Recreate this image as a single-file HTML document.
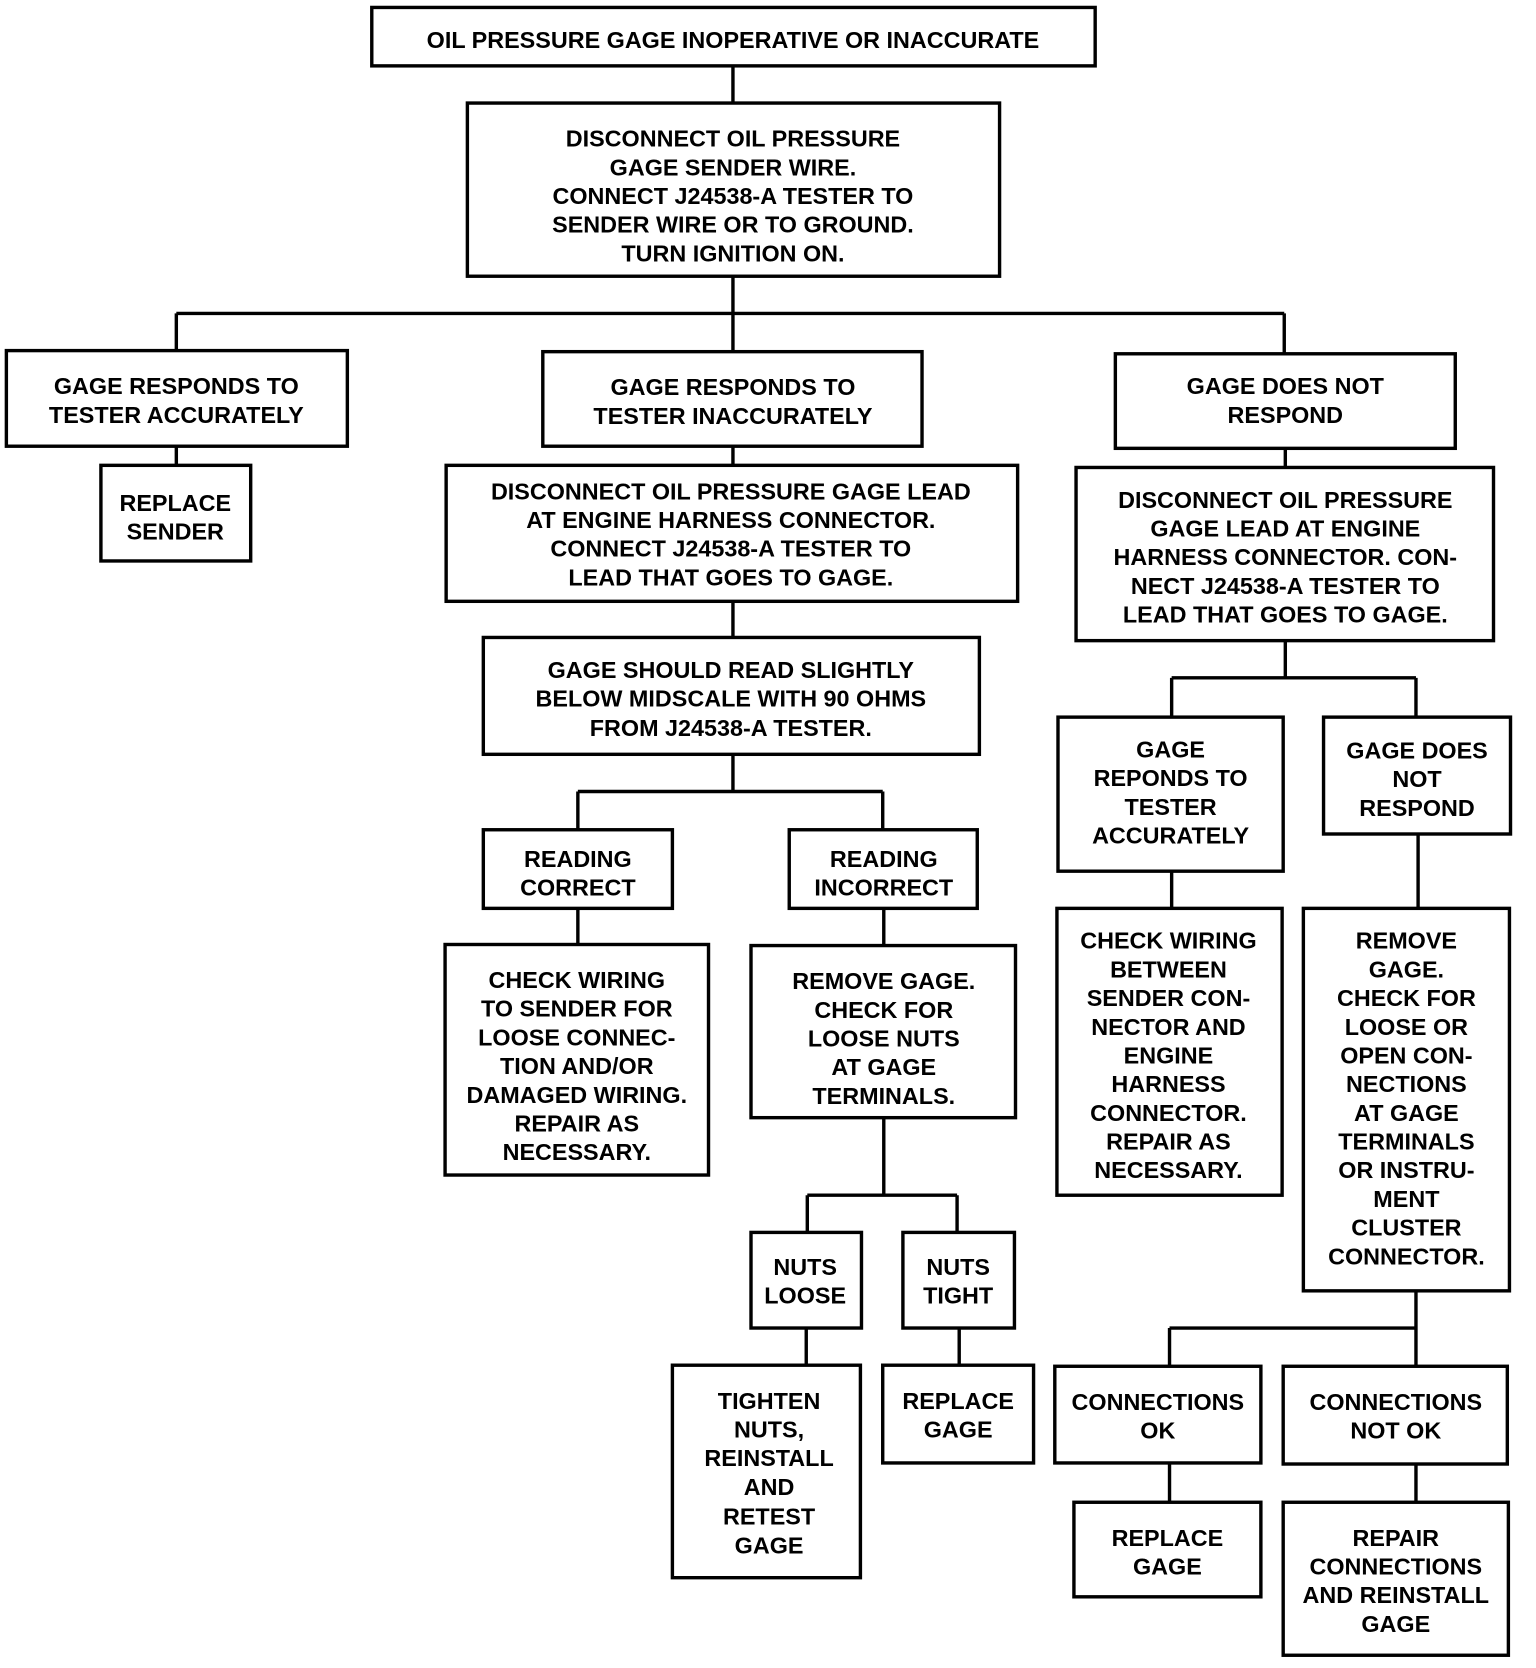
<!DOCTYPE html>
<html><head><meta charset="utf-8"><style>
html,body{margin:0;padding:0;background:#fff;}
svg{display:block;}
text{font-family:"Liberation Sans",Arial,sans-serif;font-weight:bold;font-size:22px;text-anchor:middle;fill:#000;}
</style></head><body>
<svg width="1536" height="1668" viewBox="0 0 1446 1570" preserveAspectRatio="none" xmlns="http://www.w3.org/2000/svg">
<g fill="none" stroke="#000" stroke-width="3.2">
<rect x="350" y="7" width="681" height="55"/>
<rect x="440" y="97" width="501" height="163"/>
<rect x="6" y="330" width="321" height="90"/>
<rect x="511" y="331" width="357" height="89"/>
<rect x="1050" y="333" width="320" height="89"/>
<rect x="95" y="438" width="141" height="90"/>
<rect x="420" y="438" width="538" height="128"/>
<rect x="1013" y="440" width="393" height="163"/>
<rect x="455" y="600" width="467" height="110"/>
<rect x="455" y="781" width="178" height="74"/>
<rect x="743" y="781" width="177" height="74"/>
<rect x="419" y="889" width="248" height="217"/>
<rect x="707" y="890" width="249" height="162"/>
<rect x="996" y="675" width="212" height="145"/>
<rect x="1246" y="675" width="176" height="110"/>
<rect x="995" y="855" width="212" height="270"/>
<rect x="1227" y="855" width="194" height="360"/>
<rect x="707" y="1160" width="104" height="90"/>
<rect x="850" y="1160" width="105" height="90"/>
<rect x="633" y="1285" width="177" height="200"/>
<rect x="831" y="1285" width="142" height="92"/>
<rect x="993" y="1286" width="194" height="91"/>
<rect x="1208" y="1286" width="211" height="92"/>
<rect x="1011" y="1414" width="176" height="89"/>
<rect x="1208" y="1414" width="212" height="144"/>
<path d="M690 62V97 M690 260V330 M166 295H1209 M166 295V330 M1209 295V333
M166 420V438 M690 420V438 M1210 422V440 M690 566V600
M690 710V745 M544 745H831 M544 745V781 M831 745V781
M544 855V889 M832 855V890
M1210 603V638 M1103 638H1333 M1103 638V675 M1333 638V675
M1103 820V855 M1335 785V855
M832 1052V1125 M760 1125H901 M760 1125V1160 M901 1125V1160
M759 1250V1285 M903 1250V1285
M1333 1215V1286 M1101 1250H1333 M1101 1250V1286
M1101 1377V1414 M1333 1378V1414"/>
</g>
<g>
<text x="690" y="45">OIL PRESSURE GAGE INOPERATIVE OR INACCURATE</text>
<text x="690" y="138">DISCONNECT OIL PRESSURE</text>
<text x="690" y="165">GAGE SENDER WIRE.</text>
<text x="690" y="192">CONNECT J24538-A TESTER TO</text>
<text x="690" y="219">SENDER WIRE OR TO GROUND.</text>
<text x="690" y="246">TURN IGNITION ON.</text>
<text x="166" y="371">GAGE RESPONDS TO</text>
<text x="166" y="398">TESTER ACCURATELY</text>
<text x="690" y="372">GAGE RESPONDS TO</text>
<text x="690" y="399">TESTER INACCURATELY</text>
<text x="1210" y="371">GAGE DOES NOT</text>
<text x="1210" y="398">RESPOND</text>
<text x="165" y="481">REPLACE</text>
<text x="165" y="508">SENDER</text>
<text x="688" y="470">DISCONNECT OIL PRESSURE GAGE LEAD</text>
<text x="688" y="497">AT ENGINE HARNESS CONNECTOR.</text>
<text x="688" y="524">CONNECT J24538-A TESTER TO</text>
<text x="688" y="551">LEAD THAT GOES TO GAGE.</text>
<text x="1210" y="478">DISCONNECT OIL PRESSURE</text>
<text x="1210" y="505">GAGE LEAD AT ENGINE</text>
<text x="1210" y="532">HARNESS CONNECTOR. CON-</text>
<text x="1210" y="559">NECT J24538-A TESTER TO</text>
<text x="1210" y="586">LEAD THAT GOES TO GAGE.</text>
<text x="688" y="638">GAGE SHOULD READ SLIGHTLY</text>
<text x="688" y="665">BELOW MIDSCALE WITH 90 OHMS</text>
<text x="688" y="693">FROM J24538-A TESTER.</text>
<text x="544" y="816">READING</text>
<text x="544" y="843">CORRECT</text>
<text x="832" y="816">READING</text>
<text x="832" y="843">INCORRECT</text>
<text x="543" y="930">CHECK WIRING</text>
<text x="543" y="957">TO SENDER FOR</text>
<text x="543" y="984">LOOSE CONNEC-</text>
<text x="543" y="1011">TION AND/OR</text>
<text x="543" y="1038">DAMAGED WIRING.</text>
<text x="543" y="1065">REPAIR AS</text>
<text x="543" y="1092">NECESSARY.</text>
<text x="832" y="931">REMOVE GAGE.</text>
<text x="832" y="958">CHECK FOR</text>
<text x="832" y="985">LOOSE NUTS</text>
<text x="832" y="1012">AT GAGE</text>
<text x="832" y="1039">TERMINALS.</text>
<text x="1102" y="713">GAGE</text>
<text x="1102" y="740">REPONDS TO</text>
<text x="1102" y="767">TESTER</text>
<text x="1102" y="794">ACCURATELY</text>
<text x="1334" y="714">GAGE DOES</text>
<text x="1334" y="741">NOT</text>
<text x="1334" y="768">RESPOND</text>
<text x="1100" y="893">CHECK WIRING</text>
<text x="1100" y="920">BETWEEN</text>
<text x="1100" y="947">SENDER CON-</text>
<text x="1100" y="974">NECTOR AND</text>
<text x="1100" y="1001">ENGINE</text>
<text x="1100" y="1028">HARNESS</text>
<text x="1100" y="1055">CONNECTOR.</text>
<text x="1100" y="1082">REPAIR AS</text>
<text x="1100" y="1109">NECESSARY.</text>
<text x="1324" y="893">REMOVE</text>
<text x="1324" y="920">GAGE.</text>
<text x="1324" y="947">CHECK FOR</text>
<text x="1324" y="974">LOOSE OR</text>
<text x="1324" y="1001">OPEN CON-</text>
<text x="1324" y="1028">NECTIONS</text>
<text x="1324" y="1055">AT GAGE</text>
<text x="1324" y="1082">TERMINALS</text>
<text x="1324" y="1109">OR INSTRU-</text>
<text x="1324" y="1136">MENT</text>
<text x="1324" y="1163">CLUSTER</text>
<text x="1324" y="1190">CONNECTOR.</text>
<text x="758" y="1200">NUTS</text>
<text x="758" y="1227">LOOSE</text>
<text x="902" y="1200">NUTS</text>
<text x="902" y="1227">TIGHT</text>
<text x="724" y="1326">TIGHTEN</text>
<text x="724" y="1353">NUTS,</text>
<text x="724" y="1380">REINSTALL</text>
<text x="724" y="1407">AND</text>
<text x="724" y="1435">RETEST</text>
<text x="724" y="1462">GAGE</text>
<text x="902" y="1326">REPLACE</text>
<text x="902" y="1353">GAGE</text>
<text x="1090" y="1327">CONNECTIONS</text>
<text x="1090" y="1354">OK</text>
<text x="1314" y="1327">CONNECTIONS</text>
<text x="1314" y="1354">NOT OK</text>
<text x="1099" y="1455">REPLACE</text>
<text x="1099" y="1482">GAGE</text>
<text x="1314" y="1455">REPAIR</text>
<text x="1314" y="1482">CONNECTIONS</text>
<text x="1314" y="1509">AND REINSTALL</text>
<text x="1314" y="1536">GAGE</text>
</g>
</svg>
</body></html>
